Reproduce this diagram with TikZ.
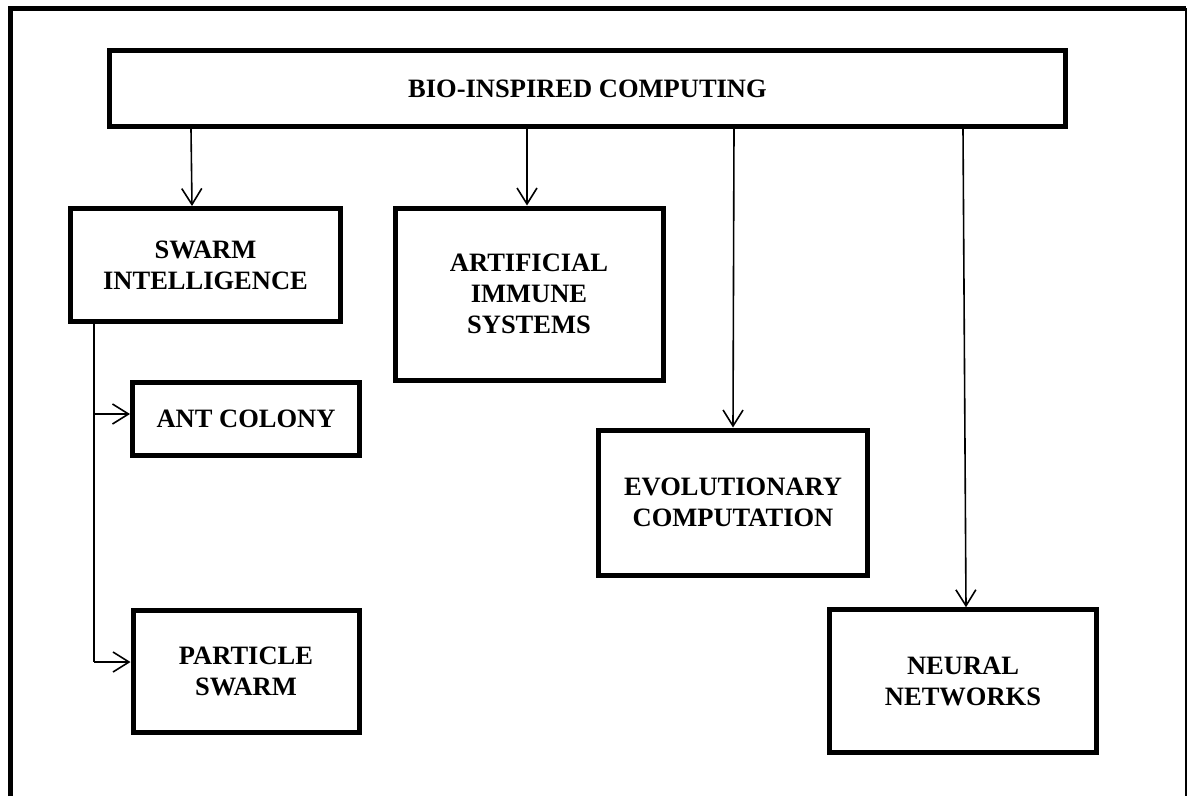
\documentclass[tikz,border=0pt]{standalone}
\usepackage{fontspec}
\setmainfont{Liberation Serif}
\usetikzlibrary{arrows.meta}
\begin{document}
\begin{tikzpicture}[x=1pt,y=-1pt,
  box/.style={draw, line width=5pt, inner sep=0pt, align=center,
    font=\fontsize{26.5}{31}\selectfont\bfseries},
  ln/.style={line width=1.6pt},
  arr/.style={line width=1.6pt, -{Straight Barb[length=16pt,width=20pt,line width=1.6pt]}}]
\useasboundingbox (0,0) rectangle (1189,796);
% outer frame
\draw[line width=5pt] (10.5,796) -- (10.5,8) -- (1186,8);
\draw[line width=1.8pt] (1186,8) -- (1186,796);
% boxes
\node[box, minimum width=956pt, minimum height=76pt] (main) at (587.5,88.5) {BIO-INSPIRED COMPUTING};
\node[box, minimum width=270pt, minimum height=113pt] (swarm) at (205.5,265) {SWARM\\INTELLIGENCE};
\node[box, minimum width=268pt, minimum height=172pt] (ais) at (529,294) {ARTIFICIAL\\IMMUNE\\SYSTEMS};
\node[box, minimum width=227pt, minimum height=72.5pt] (ant) at (246,419) {ANT COLONY};
\node[box, minimum width=226pt, minimum height=122pt] (pso) at (246,671) {PARTICLE\\SWARM};
\node[box, minimum width=269pt, minimum height=145pt] (evo) at (733,502.5) {EVOLUTIONARY\\COMPUTATION};
\node[box, minimum width=267.5pt, minimum height=142.5pt] (nn) at (963,681) {NEURAL\\NETWORKS};
% connectors from main
\draw[arr] (main.south -| 191,0) -- (swarm.north -| 192,0);
\draw[arr] (main.south -| 527,0) -- (ais.north -| 527,0);
\draw[arr] (main.south -| 734,0) -- (evo.north);
\draw[arr] (main.south -| 963,0) -- (nn.north -| 966,0);
% swarm branches
\coordinate (sp1) at (94,414);
\coordinate (sp2) at (94,662);
\draw[ln] (swarm.south -| sp1) -- (sp2);
\draw[arr] (sp1) -- (ant.west |- sp1);
\draw[arr] (sp2) -- (pso.west |- sp2);
\end{tikzpicture}
\end{document}
